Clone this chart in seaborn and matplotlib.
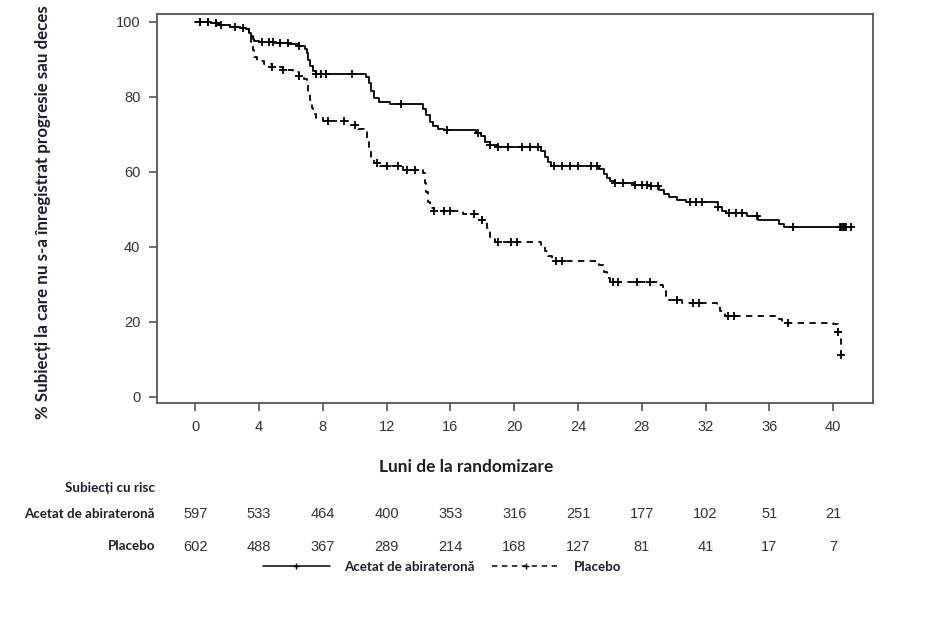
import numpy as np
import matplotlib
matplotlib.use("Agg")
import matplotlib.pyplot as plt
import seaborn as sns
from matplotlib.lines import Line2D

# ---------------- data ----------------
months = [0, 4, 8, 12, 16, 20, 24, 28, 32, 36, 40]
y_ticks = [0, 20, 40, 60, 80, 100]

abi_t = [0, 1.0, 1.5, 2.2, 2.8, 3.2, 3.4, 3.5, 3.6, 3.7, 4.0, 5.0, 5.9, 6.5, 6.9, 7.0,
         7.1, 7.2, 7.4, 7.6, 10.7, 10.9, 11.0, 11.2, 11.5, 12.2, 14.3, 14.5, 14.7, 14.9,
         15.2, 15.6, 17.6, 17.9, 18.2, 18.5, 18.9, 21.7, 21.9, 22.1, 22.3, 25.3, 25.6,
         25.8, 26.0, 26.3, 27.5, 28.5, 29.1, 29.4, 29.7, 30.2, 30.8, 32.8, 33.0, 33.3,
         34.6, 35.3, 36.6, 36.9, 41.1]
abi_s = [100, 99.7, 99.2, 98.6, 98.2, 97.9, 97.0, 96.2, 95.4, 94.8, 94.5, 94.2, 93.9,
         93.5, 92.8, 91.5, 89.8, 88.2, 86.8, 86.0, 85.2, 83.5, 81.5, 79.5, 78.6, 77.9,
         76.8, 75.0, 73.3, 72.1, 71.4, 71.0, 70.3, 69.4, 68.0, 67.0, 66.5, 65.6, 64.0,
         62.5, 61.4, 60.6, 59.5, 58.3, 57.4, 57.0, 56.5, 56.1, 55.2, 54.0, 53.2, 52.4,
         51.8, 50.6, 49.5, 48.9, 48.1, 47.2, 46.2, 45.2, 45.2]
abi_cens = [0.3, 0.8, 1.3, 1.6, 2.5, 3.0, 4.2, 4.6, 4.9, 5.3, 5.8, 6.5, 7.6, 7.9, 8.2,
            9.8, 12.9, 15.8, 17.7, 18.5, 19.0, 19.6, 20.5, 21.0, 21.5, 22.5, 23.0, 23.5,
            24.0, 24.8, 25.2, 26.3, 26.8, 27.6, 28.0, 28.3, 28.6, 29.0, 31.0, 31.4,
            31.8, 32.8, 33.5, 33.9, 34.3, 35.2, 37.5, 40.4, 40.5, 40.6, 40.7, 40.8, 41.1]

pla_t = [0, 1.0, 1.5, 2.2, 2.8, 3.2, 3.4, 3.5, 3.6, 3.7, 3.9, 4.3, 4.8, 5.5, 6.1, 6.5,
         6.8, 7.0, 7.1, 7.2, 7.3, 7.4, 7.6, 8.0, 9.7, 10.2, 10.6, 10.8, 10.9, 11.0, 11.2,
         11.6, 13.0, 14.3, 14.4, 14.5, 14.6, 14.7, 15.0, 16.8, 18.0, 18.3, 18.5, 18.8,
         21.7, 21.9, 22.1, 22.4, 25.3, 25.6, 25.8, 26.0, 29.1, 29.3, 29.5, 29.7, 30.5,
         32.7, 32.9, 33.2, 36.6, 36.8, 40.0, 40.3, 40.5]
pla_s = [100, 99.7, 99.2, 98.6, 98.2, 97.9, 96.5, 94.5, 92.5, 90.5, 89.6, 88.6, 87.8,
         87.0, 86.6, 85.6, 84.6, 83.0, 81.0, 79.0, 77.0, 75.5, 74.3, 73.4, 72.5, 71.5,
         70.5, 68.5, 66.0, 63.5, 62.2, 61.4, 60.4, 59.6, 57.0, 54.5, 52.0, 50.3, 49.6,
         48.7, 47.2, 45.0, 42.5, 41.2, 40.4, 39.0, 37.5, 36.1, 35.2, 33.4, 31.6, 30.5,
         29.8, 28.3, 27.0, 25.9, 24.9, 24.2, 22.8, 21.5, 20.9, 19.7, 19.4, 17.2, 11.2]
pla_cens = [0.3, 0.8, 1.3, 4.8, 5.5, 6.5, 8.3, 9.3, 10.0, 11.4, 12.0, 12.7, 13.3,
            13.8, 15.0, 15.6, 16.0, 17.5, 18.0, 19.0, 19.8, 20.2, 22.6, 23.0, 26.2,
            26.5, 27.7, 28.5, 30.2, 31.2, 31.6, 33.4, 33.8, 37.2, 40.3, 40.5]

risk_abi = [597, 533, 464, 400, 353, 316, 251, 177, 102, 51, 21]
risk_pla = [602, 488, 367, 289, 214, 168, 127, 81, 41, 17, 7]

name_abi = "Acetat de abirateronă"
name_pla = "Placebo"


def surv_at(t, s, times):
    t = np.asarray(t)
    s = np.asarray(s)
    idx = np.searchsorted(t, times, side="right") - 1
    return s[np.clip(idx, 0, len(s) - 1)]


sns.set_style("ticks")
plt.rcParams["font.family"] = ["Liberation Sans", "DejaVu Sans"]

label_font = ["Lato", "DejaVu Sans"]
label_col = "#1c1c2e"
num_col = "#333333"

fig = plt.figure(figsize=(9.37, 6.17), dpi=100)
ax = fig.add_axes([157 / 937, 1 - 403 / 617, 716 / 937, 389 / 617])

dash = (0, (3.5, 3))
lw = 1.3
sns.lineplot(x=abi_t, y=abi_s, drawstyle="steps-post", color="black", linewidth=lw,
             estimator=None, sort=False, ax=ax)
sns.lineplot(x=pla_t, y=pla_s, drawstyle="steps-post", color="black", linewidth=lw,
             linestyle=dash, estimator=None, sort=False, ax=ax)
sns.scatterplot(x=abi_cens, y=surv_at(abi_t, abi_s, abi_cens), marker="+", s=36,
                color="black", linewidth=1.3, ax=ax)
sns.scatterplot(x=pla_cens, y=surv_at(pla_t, pla_s, pla_cens), marker="+", s=36,
                color="black", linewidth=1.3, ax=ax)

ax.set_xlim(-2.4, 42.5)
ax.set_ylim(-1.6, 102)
ax.set_xticks(months)
ax.set_yticks(y_ticks)
ax.tick_params(axis="both", direction="out", length=6, width=1.2, colors="#555555",
               labelcolor=num_col, labelsize=10.5, pad=6)
for sp in ax.spines.values():
    sp.set_visible(True)
    sp.set_color("#555555")
    sp.set_linewidth(1.3)
ax.set_xlabel("")
ax.set_ylabel("")

# y label
fig.text(43 / 937, 1 - 212 / 617,
         "% Subiecți la care nu s-a înregistrat progresie sau deces",
         rotation=90, ha="center", va="center", fontsize=12.2, fontweight="bold",
         color=label_col, family=label_font)

# x label
fig.text(466 / 937, 1 - 467 / 617, "Luni de la randomizare", ha="center", va="center",
         fontsize=12.4, fontweight="bold", color=label_col, family=label_font)

# number at risk table
fig.text(155 / 937, 1 - 488 / 617, "Subiecți cu risc", ha="right", va="center",
         fontsize=9.6, fontweight="bold", color=label_col, family=label_font)
fig.text(155 / 937, 1 - 514 / 617, name_abi, ha="right", va="center",
         fontsize=9.6, fontweight="bold", color=label_col, family=label_font)
fig.text(155 / 937, 1 - 546 / 617, name_pla, ha="right", va="center",
         fontsize=9.6, fontweight="bold", color=label_col, family=label_font)
for m, a, p in zip(months, risk_abi, risk_pla):
    x_fig = ax.transData.transform((m, 0))[0] / fig.bbox.width
    fig.text(x_fig, 1 - 514 / 617, str(a), ha="center", va="center",
             fontsize=10.5, color=num_col)
    fig.text(x_fig, 1 - 547 / 617, str(p), ha="center", va="center",
             fontsize=10.5, color=num_col)

# legend
handles = [Line2D([], [], color="black", lw=1.1, marker="+", markersize=5),
           Line2D([], [], color="black", lw=1.1, linestyle=dash, marker="+", markersize=5)]
fig.legend(handles, [name_abi, name_pla], loc="center", ncol=2, frameon=False,
           bbox_to_anchor=(442 / 937, 1 - 567 / 617), handlelength=5.0,
           columnspacing=1.3, handletextpad=1.1,
           prop={"family": label_font, "weight": "bold", "size": 9.6})
for t in fig.legends[0].get_texts():
    t.set_color(label_col)

fig.savefig("out.png", dpi=100)
